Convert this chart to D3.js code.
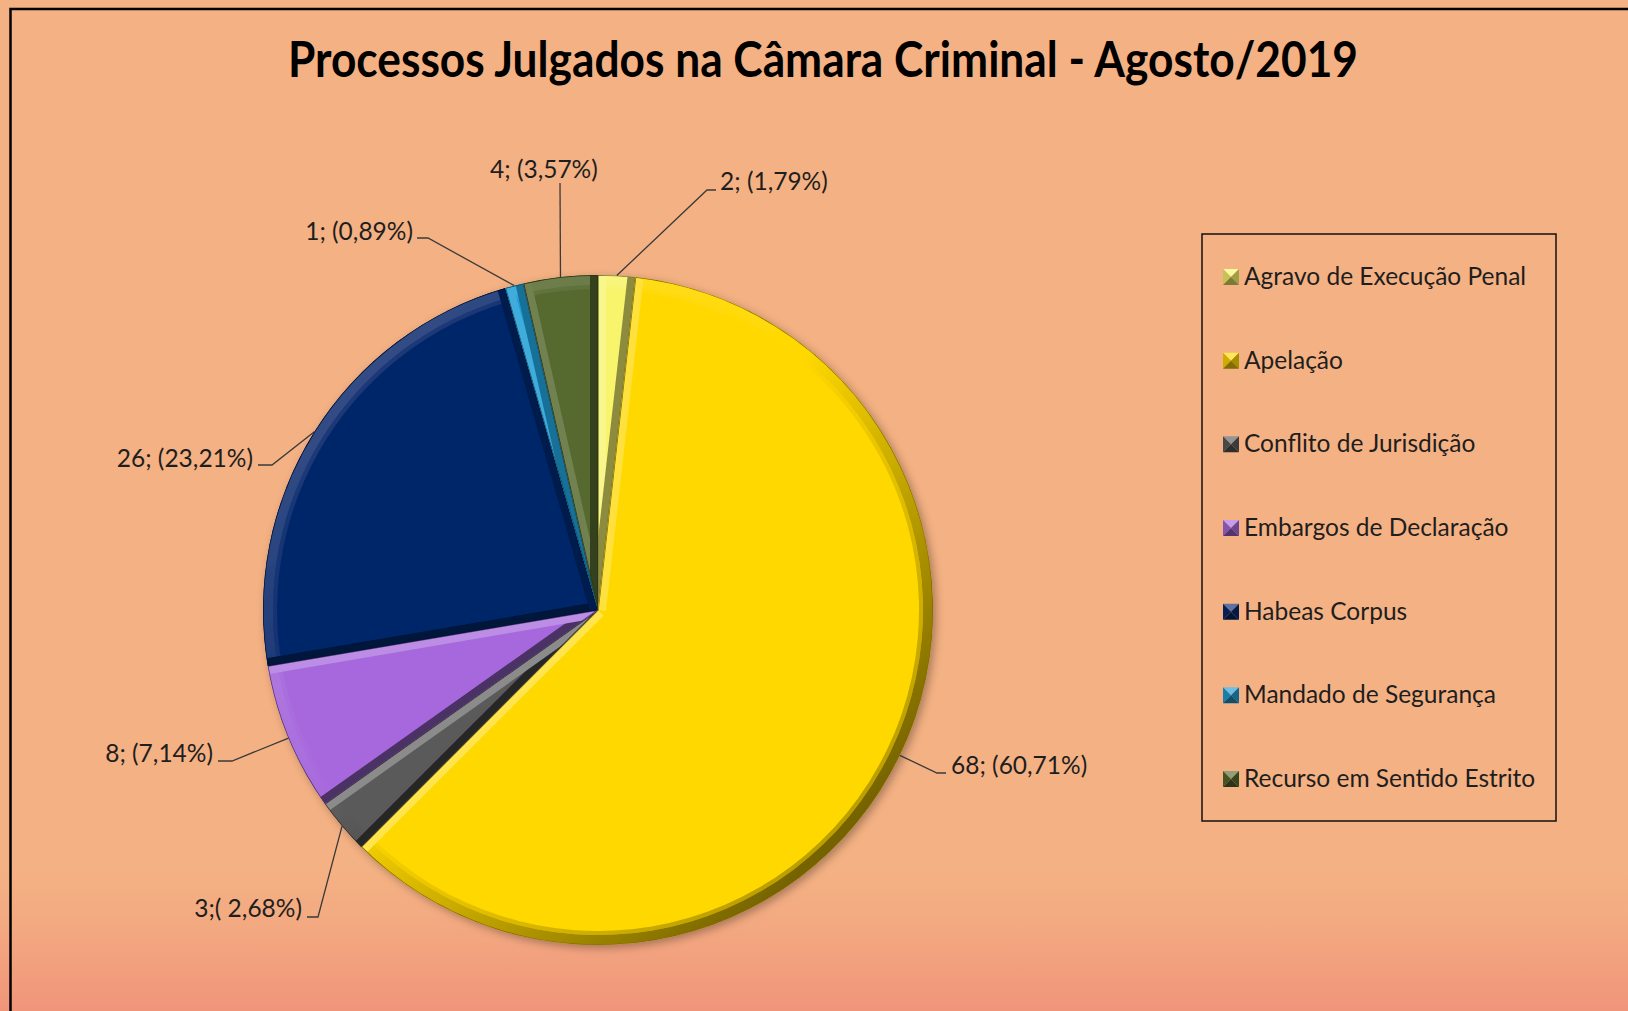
<!DOCTYPE html>
<html>
<head>
<meta charset="utf-8">
<script src="https://cdn.jsdelivr.net/npm/d3@7"></script>
<style>
  body { margin: 0; background: #F4B183; }
  svg { display: block; }
</style>
</head>
<body>
<div id="chart"></div>
<script>
// data
const categories = [
  'Agravo de Execução Penal', 'Apelação', 'Conflito de Jurisdição', 'Embargos de Declaração',
  'Habeas Corpus', 'Mandado de Segurança', 'Recurso em Sentido Estrito',
];
const values = [2, 68, 3, 8, 26, 1, 4];
const labelTexts = ['2; (1,79%)', '68; (60,71%)', '3;( 2,68%)', '8; (7,14%)', '26; (23,21%)', '1; (0,89%)', '4; (3,57%)'];
const colors = ['#F8F46C', '#FFD800', '#5A5A5A', '#A668DC', '#06266A', '#1E9ED6', '#56692E'];

// where each data label sits (leader bend, leader end, text anchor)
const labelLayout = [
  { bend: [707, 190], end: [716, 190], tx: 720, ty: 190, anchor: 'start' },
  { bend: [937, 773], end: [946, 773], tx: 951, ty: 774, anchor: 'start' },
  { bend: [318, 917], end: [307, 917], tx: 302, ty: 917, anchor: 'end' },
  { bend: [232, 761], end: [218, 761], tx: 213, ty: 762, anchor: 'end' },
  { bend: [272, 465], end: [258, 465], tx: 253, ty: 467, anchor: 'end' },
  { bend: [428, 238], end: [417, 238], tx: 413, ty: 240, anchor: 'end' },
  { bend: [560, 183], end: [560, 183], tx: 490, ty: 178, anchor: 'start' },
];

const W = 1628, H = 1011;
const cx = 598, cy = 610, R = 335;
const font = 'Lato, "Open Sans", sans-serif';

const svg = d3.select('#chart').append('svg').attr('width', W).attr('height', H);
const defs = svg.append('defs');

// background with the salmon fade at the bottom
const bg = defs.append('linearGradient').attr('id', 'bgGrad').attr('x1', 0).attr('y1', 0).attr('x2', 0).attr('y2', 1);
bg.append('stop').attr('offset', 0).attr('stop-color', '#F4B183');
bg.append('stop').attr('offset', 0.35).attr('stop-color', '#F3AA81');
bg.append('stop').attr('offset', 1).attr('stop-color', '#F1957A');
svg.append('rect').attr('width', W).attr('height', H).attr('fill', '#F4B183');
svg.append('rect').attr('y', 870).attr('width', W).attr('height', H - 870).attr('fill', 'url(#bgGrad)');
svg.append('rect').attr('x', 10.5).attr('y', 9).attr('width', W + 20).attr('height', H + 20)
  .attr('fill', 'none').attr('stroke', '#000').attr('stroke-width', 2.5);

// title
svg.append('text').attr('x', 823).attr('y', 77).attr('text-anchor', 'middle')
  .attr('font-family', font).attr('font-weight', 700).attr('font-size', 49)
  .attr('textLength', 1070).attr('lengthAdjust', 'spacingAndGlyphs').attr('fill', '#000')
  .text('Processos Julgados na Câmara Criminal - Agosto/2019');

// pie
const pie = d3.pie().sort(null).value(d => d)(values);
const arc = d3.arc().innerRadius(0).outerRadius(R);
const rim = d3.arc().innerRadius(R - 10).outerRadius(R);
const lighter = (c, k) => d3.interpolateRgb(c, '#ffffff')(k);
const darker = (c, k) => d3.interpolateRgb(c, '#000000')(k);

const shadow = defs.append('filter').attr('id', 'shadow').attr('x', -0.1).attr('y', -0.1).attr('width', 1.2).attr('height', 1.2);
shadow.append('feDropShadow').attr('dx', 3).attr('dy', 3).attr('stdDeviation', 4).attr('flood-color', '#000').attr('flood-opacity', 0.3);

const pieG = svg.append('g').attr('transform', `translate(${cx},${cy})`).attr('filter', 'url(#shadow)');

pie.forEach((p, i) => {
  const base = colors[i];
  defs.append('clipPath').attr('id', `clip-${i}`).append('path').attr('d', arc(p));
  const g = defs.append('linearGradient').attr('id', `rim-${i}`).attr('gradientUnits', 'userSpaceOnUse')
    .attr('x1', -R * 0.707).attr('y1', -R * 0.707).attr('x2', R * 0.707).attr('y2', R * 0.707);
  g.append('stop').attr('offset', 0).attr('stop-color', lighter(base, 0.18));
  g.append('stop').attr('offset', 0.45).attr('stop-color', base);
  g.append('stop').attr('offset', 1).attr('stop-color', darker(base, 0.55));

  const s = pieG.append('g').attr('clip-path', `url(#clip-${i})`);
  s.append('path').attr('d', arc(p)).attr('fill', base);
  s.append('path').attr('d', rim(p)).attr('fill', `url(#rim-${i})`);
  s.append('path').attr('d', d3.arc().innerRadius(R - 14).outerRadius(R - 10)(p))
    .attr('fill', `url(#rim-${i})`).attr('opacity', 0.5);

  // radial edges: shade by how the edge faces a light from the top-left
  [[p.startAngle, -Math.PI / 2], [p.endAngle, Math.PI / 2]].forEach(([a, turn]) => {
    const shade = Math.cos(a + turn + Math.PI / 4);
    const col = shade > 0 ? lighter(base, 0.3 * shade) : darker(base, 0.55 * -shade);
    s.append('line').attr('x1', 0).attr('y1', 0)
      .attr('x2', R * Math.sin(a)).attr('y2', -R * Math.cos(a))
      .attr('stroke', col).attr('stroke-width', 16);
  });
  s.append('path').attr('d', arc(p)).attr('fill', 'none').attr('stroke', darker(base, 0.5)).attr('stroke-width', 1.5);
});

// data labels with leader lines
const labelG = svg.append('g');
pie.forEach((p, i) => {
  const mid = (p.startAngle + p.endAngle) / 2;
  const L = labelLayout[i];
  const start = [cx + R * Math.sin(mid), cy - R * Math.cos(mid)];
  labelG.append('path').attr('d', d3.line()([start, L.bend, L.end]))
    .attr('fill', 'none').attr('stroke', '#3a3a3a').attr('stroke-width', 1.3);
  labelG.append('text').attr('x', L.tx).attr('y', L.ty).attr('text-anchor', L.anchor)
    .attr('font-family', font).attr('font-size', 24.5).attr('fill', '#1e1e1e').text(labelTexts[i]);
});

// legend
const lg = svg.append('g');
lg.append('rect').attr('x', 1202).attr('y', 234).attr('width', 354).attr('height', 587)
  .attr('fill', 'none').attr('stroke', '#111').attr('stroke-width', 1.5);
const ly = d3.scaleLinear().domain([0, categories.length - 1]).range([285, 787]);
categories.forEach((c, i) => {
  const base = colors[i];
  const x0 = 1223, y0 = ly(i) - 16, sz = 16, m = sz / 2;
  const tri = (pts, col) => lg.append('path').attr('d', d3.line()(pts) + 'Z').attr('fill', col);
  tri([[x0, y0], [x0 + sz, y0], [x0 + m, y0 + m]], lighter(base, 0.35));
  tri([[x0, y0], [x0, y0 + sz], [x0 + m, y0 + m]], darker(base, 0.2));
  tri([[x0 + sz, y0], [x0 + sz, y0 + sz], [x0 + m, y0 + m]], darker(base, 0.35));
  tri([[x0, y0 + sz], [x0 + sz, y0 + sz], [x0 + m, y0 + m]], darker(base, 0.5));
  lg.append('text').attr('x', 1244).attr('y', ly(i)).attr('font-family', font).attr('font-size', 24.5)
    .attr('fill', '#1e1e1e').text(c);
});
</script>
</body>
</html>
